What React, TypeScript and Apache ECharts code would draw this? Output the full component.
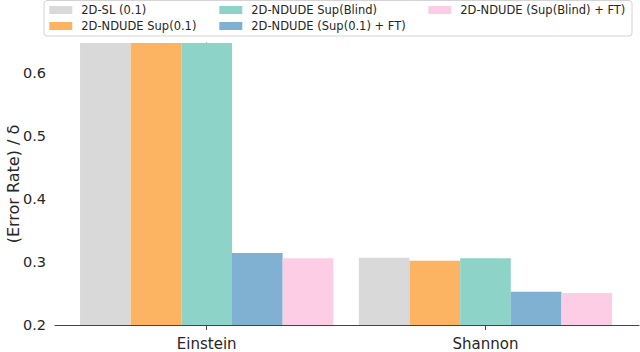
import React, { useEffect, useRef } from "react";
import * as echarts from "echarts";

const categories = ["Einstein", "Shannon"];
const seriesNames = [
  "2D-SL (0.1)",
  "2D-NDUDE Sup(0.1)",
  "2D-NDUDE Sup(Blind)",
  "2D-NDUDE (Sup(0.1) + FT)",
  "2D-NDUDE (Sup(Blind) + FT)",
];
const slValues = [0.66, 0.307];
const supValues = [0.66, 0.302];
const blindValues = [0.66, 0.306];
const supFtValues = [0.3145, 0.253];
const blindFtValues = [0.306, 0.251];
const seriesColors = ["#d9d9d9", "#fdb462", "#8dd3c7", "#80b1d3", "#fccde5"];
const yTicks = [0.2, 0.3, 0.4, 0.5, 0.6];

const FONT = "DejaVu Sans";
const TXT = "#262626";

export default function App() {
  const ref = useRef<HTMLDivElement>(null);
  useEffect(() => {
    if (!ref.current) return;
    const chart = echarts.init(ref.current, undefined, { renderer: "svg" });
    const all = [slValues, supValues, blindValues, supFtValues, blindFtValues];
    const series = all.map((vals, i) => ({
      name: seriesNames[i],
      type: "bar",
      data: vals.map((v, j) => [j, v]),
      barWidth: 50.65,
      barGap: "0%",
      itemStyle: { color: seriesColors[i] },
      clip: true,
    }));
    const legendCommon = {
      orient: "vertical",
      itemWidth: 23,
      itemHeight: 8,
      itemGap: 4,
      icon: "rect",
      padding: 0,
      selectedMode: false,
      textStyle: { fontFamily: FONT, fontSize: 11.5, color: TXT, padding: [0, 0, 0, 4] },
    };
    chart.setOption({
      animation: false,
      legend: [
        { ...legendCommon, left: 49.3, top: 4, data: [seriesNames[0], seriesNames[1]] },
        { ...legendCommon, left: 219.3, top: 4, data: [seriesNames[2], seriesNames[3]] },
        { ...legendCommon, left: 428.3, top: 4, data: [seriesNames[4]] },
      ],
      graphic: [
        {
          type: "rect",
          z: -1,
          shape: { x: 44, y: 0.5, width: 588, height: 35.5, r: 3 },
          style: { fill: "#fff", stroke: "#d4d4d4", lineWidth: 1 },
        },
      ],
      grid: { left: 55, right: 1, top: 43, bottom: 27, containLabel: false, outerBoundsMode: "none" },
      xAxis: {
        type: "value",
        min: -0.544,
        max: 1.5506,
        splitLine: { show: false },
        axisLine: { show: true, lineStyle: { color: "#444", width: 1.2 } },
        axisTick: { show: true, length: 5, customValues: [0, 1], lineStyle: { color: "#444" } },
        axisLabel: {
          customValues: [0, 1],
          formatter: (v: number) => categories[Math.round(v)] ?? "",
          fontFamily: FONT,
          fontSize: 15,
          color: TXT,
          margin: 11,
        },
      },
      yAxis: {
        type: "value",
        min: 0.2,
        max: 0.648,
        interval: 0.1,
        name: "(Error Rate) / δ",
        nameLocation: "middle",
        nameGap: 34,
        nameMoveOverlap: false,
        nameTextStyle: { fontFamily: FONT, fontSize: 16, color: TXT },
        splitLine: { show: false },
        axisLine: { show: true, lineStyle: { color: "#444", width: 1.2 } },
        axisTick: { show: true, length: 6, customValues: yTicks, lineStyle: { color: "#444" } },
        axisLabel: {
          customValues: yTicks,
          formatter: (v: number) => v.toFixed(1),
          fontFamily: FONT,
          fontSize: 14.5,
          color: TXT,
          margin: 9,
        },
      },
      series,
    });
    return () => chart.dispose();
  }, []);
  return (
    <div
      ref={ref}
      style={{ position: "fixed", left: 0, top: 0, width: 640, height: 352, background: "#fff" }}
    />
  );
}
